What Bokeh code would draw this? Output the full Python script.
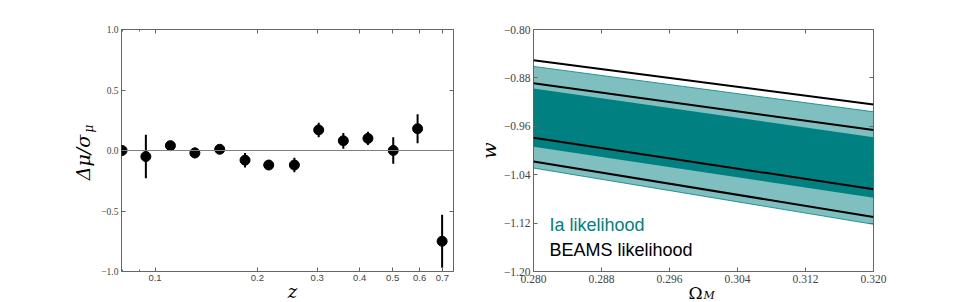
import numpy as np
from bokeh.plotting import figure
from bokeh.layouts import row
from bokeh.models import (Range1d, FixedTicker, LinearAxis, LogAxis, Span, Label,
                          PrintfTickFormatter, CustomLabelingPolicy)
from bokeh.embed import file_html
from bokeh.resources import INLINE

# ---------------- data: left panel ----------------
z = [0.080, 0.094, 0.111, 0.131, 0.155, 0.184, 0.216, 0.257, 0.303, 0.358, 0.423, 0.502, 0.592, 0.699]
dmu = [0.00, -0.05, 0.04, -0.02, 0.01, -0.08, -0.12, -0.12, 0.17, 0.08, 0.10, 0.00, 0.18, -0.75]
dmu_err = [0.01, 0.18, 0.035, 0.045, 0.02, 0.06, 0.04, 0.06, 0.06, 0.065, 0.055, 0.11, 0.12, 0.22]
z_ticks = [0.1, 0.2, 0.3, 0.4, 0.5, 0.6, 0.7]
z_minor_ticks = [0.08, 0.09]
dmu_ticks = [-1.0, -0.5, 0.0, 0.5, 1.0]

# ---------------- data: right panel ----------------
omega_m = [0.280, 0.320]
beams_line_1 = [-0.851, -0.924]
ia_light_top = [-0.861, -0.936]
beams_line_2 = [-0.889, -0.966]
ia_dark_top = [-0.8975, -0.978]
beams_line_3 = [-0.979, -1.064]
ia_dark_bottom = [-0.994, -1.078]
beams_line_4 = [-1.018, -1.110]
ia_light_bottom = [-1.029, -1.122]
omega_ticks = [0.280, 0.288, 0.296, 0.304, 0.312, 0.320]
w_ticks = [-1.20, -1.12, -1.04, -0.96, -0.88, -0.80]

TEAL = "#008080"
FRAME = "#666666"
SERIF = "Liberation Serif"
MATH = "DejaVu Serif"

no_labels = CustomLabelingPolicy(code="for (const i of Array.from(indices)) { indices.unset(i) } return indices")


def style_axis(ax, ticker, labels=True, font=SERIF, size="9.5px", overrides=None, fmt=None):
    ax.ticker = ticker
    ax.axis_line_color = None
    ax.major_tick_in = 4
    ax.major_tick_out = 0
    ax.minor_tick_in = 2
    ax.minor_tick_out = 0
    ax.major_tick_line_color = FRAME
    ax.minor_tick_line_color = FRAME
    ax.major_label_standoff = 3
    if fmt is not None:
        ax.formatter = fmt
    if overrides is not None:
        ax.major_label_overrides = overrides
    if labels:
        ax.major_label_text_font = font
        ax.major_label_text_font_size = size
        ax.major_label_text_color = "#444444"
    else:
        ax.major_label_policy = no_labels
        ax.major_label_standoff = 0


def minus_labels(ticks, digits):
    return {t: f"{t:.{digits}f}".replace("-", "\u2212") for t in ticks}


def canvas_label(p, side, **kw):
    base = dict(x_units="canvas", y_units="canvas", text_color="black", text_font=MATH)
    base.update(kw)
    p.add_layout(Label(**base), side)


# ---------------- left figure ----------------
p1 = figure(width=478, height=302,
            x_axis_type="log", x_range=Range1d(0.0797, 0.755), y_range=Range1d(-1.0, 1.0),
            output_backend="svg", toolbar_location=None,
            min_border_left=121, min_border_right=15, min_border_top=29, min_border_bottom=31)
p1.grid.visible = False
p1.outline_line_color = FRAME
p1.outline_line_width = 1

zt = FixedTicker(ticks=z_ticks, minor_ticks=z_minor_ticks)
style_axis(p1.xaxis[0], zt, font="Liberation Sans", size="9.5px",
           overrides={t: f"{t:.1f}" for t in z_ticks})
style_axis(p1.yaxis[0], FixedTicker(ticks=dmu_ticks, minor_ticks=[]), overrides=minus_labels(dmu_ticks, 1))

ax_top = LogAxis()
style_axis(ax_top, FixedTicker(ticks=z_ticks, minor_ticks=z_minor_ticks), labels=False)
p1.add_layout(ax_top, "above")
ax_right = LinearAxis()
style_axis(ax_right, FixedTicker(ticks=dmu_ticks, minor_ticks=[]), labels=False)
p1.add_layout(ax_right, "right")

p1.add_layout(Span(location=0, dimension="width", line_color="#808080", line_width=1))

z_arr = np.array(z)
v_arr = np.array(dmu)
e_arr = np.array(dmu_err)
p1.segment(x0=z_arr, y0=v_arr - e_arr, x1=z_arr, y1=v_arr + e_arr, line_color="black", line_width=2)
p1.scatter(z_arr, v_arr, size=10, fill_color="black", line_color="black")

canvas_label(p1, "left", x=82, y=157, angle=np.pi / 2, text="\u0394\u03bc/\u03c3",
             text_align="center", text_baseline="middle", text_font_style="italic", text_font_size="19px")
canvas_label(p1, "left", x=88, y=128, angle=np.pi / 2, text="\u03bc",
             text_align="center", text_baseline="middle", text_font_style="italic", text_font_size="12px")
canvas_label(p1, "left", x=292, y=291, text="z", text_align="center", text_baseline="alphabetic",
             text_font_style="italic", text_font_size="18px")

# ---------------- right figure ----------------
p2 = figure(width=475, height=302,
            x_range=Range1d(0.28, 0.32), y_range=Range1d(-1.2, -0.8),
            output_backend="svg", toolbar_location=None,
            min_border_left=53, min_border_right=80, min_border_top=29, min_border_bottom=31)
p2.grid.visible = False
p2.outline_line_color = FRAME
p2.outline_line_width = 1

style_axis(p2.xaxis[0], FixedTicker(ticks=omega_ticks, minor_ticks=[]), size="11.5px",
           fmt=PrintfTickFormatter(format="%.3f"))
style_axis(p2.yaxis[0], FixedTicker(ticks=w_ticks, minor_ticks=[]), size="11.5px",
           overrides=minus_labels(w_ticks, 2))
ax2_top = LinearAxis()
style_axis(ax2_top, FixedTicker(ticks=omega_ticks, minor_ticks=[]), labels=False)
p2.add_layout(ax2_top, "above")
ax2_right = LinearAxis()
style_axis(ax2_right, FixedTicker(ticks=w_ticks, minor_ticks=[]), labels=False)
p2.add_layout(ax2_right, "right")

p2.varea(x=omega_m, y1=ia_light_bottom, y2=ia_light_top, fill_color=TEAL, fill_alpha=0.5)
p2.line(omega_m, ia_light_top, line_color=TEAL, line_alpha=0.8, line_width=1)
p2.line(omega_m, ia_light_bottom, line_color=TEAL, line_alpha=0.8, line_width=1)
p2.varea(x=omega_m, y1=ia_dark_bottom, y2=ia_dark_top, fill_color=TEAL, fill_alpha=1.0)
for ln in (beams_line_1, beams_line_2, beams_line_3, beams_line_4):
    p2.line(omega_m, ln, line_color="black", line_width=2)

canvas_label(p2, "left", x=10, y=150, angle=np.pi / 2, text="w", text_align="center",
             text_baseline="middle", text_font_style="italic", text_font_size="19px")
canvas_label(p2, "right", x=217, y=292, text="\u03a9", text_align="center", text_baseline="alphabetic",
             text_font_size="17px")
canvas_label(p2, "right", x=225, y=295, text="M", text_align="left", text_baseline="alphabetic",
             text_font_style="italic", text_font_size="11px")

p2.add_layout(Label(x=16, y=37, x_units="screen", y_units="screen",
                    text="Ia likelihood", text_font="Liberation Sans", text_font_size="18px",
                    text_color=TEAL))
p2.add_layout(Label(x=16, y=12, x_units="screen", y_units="screen",
                    text="BEAMS likelihood", text_font="Liberation Sans", text_font_size="18px",
                    text_color="black"))

layout = row(p1, p2)
open("out.html", "w").write(file_html(layout, INLINE))
